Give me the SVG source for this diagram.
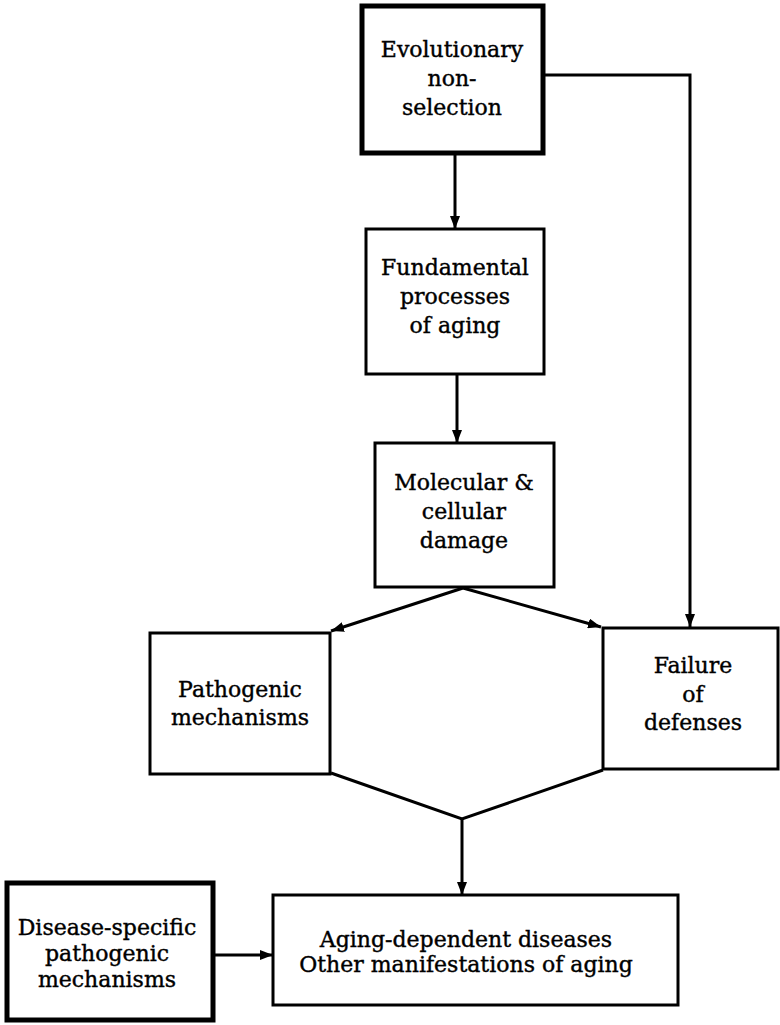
<svg xmlns="http://www.w3.org/2000/svg" width="780" height="1025" viewBox="0 0 780 1025">
<style>
.box{fill:#fff;stroke:#000;stroke-width:3}
.thick{fill:#fff;stroke:#000;stroke-width:5}
.t{font-family:"DejaVu Serif","Liberation Serif",serif;font-size:22px;fill:#000;stroke:#000;stroke-width:0.4;text-anchor:middle}
.c{fill:none;stroke:#000;stroke-width:3}
</style>
<defs>
<marker id="ah" markerUnits="userSpaceOnUse" markerWidth="13" markerHeight="10" refX="13" refY="5" orient="auto">
<path d="M0,0 L13,5 L0,10 z" fill="#000"/>
</marker>
</defs>
<rect width="780" height="1025" fill="#fff"/>
<g id="connectors">
<path class="c" d="M455,153 V229" marker-end="url(#ah)"/>
<path class="c" d="M457,374 V443" marker-end="url(#ah)"/>
<path class="c" d="M543,75 H690 V627" marker-end="url(#ah)"/>
<path class="c" d="M463,588 L331,631" marker-end="url(#ah)"/>
<path class="c" d="M463,588 L601,627" marker-end="url(#ah)"/>
<path class="c" d="M331,773 L462,819 L603,770"/>
<path class="c" d="M462,819 V895" marker-end="url(#ah)"/>
<path class="c" d="M213,955 H273" marker-end="url(#ah)"/>
</g>
<g id="evolutionary">
<rect class="thick" x="362" y="6" width="181" height="147"/>
<text class="t" x="452" y="57">Evolutionary</text>
<text class="t" x="452" y="86">non-</text>
<text class="t" x="452" y="115">selection</text>
</g>
<g id="fundamental">
<rect class="box" x="366" y="229" width="178" height="145"/>
<text class="t" x="455" y="275">Fundamental</text>
<text class="t" x="455" y="304">processes</text>
<text class="t" x="455" y="333">of aging</text>
</g>
<g id="molecular">
<rect class="box" x="375" y="443" width="179" height="144"/>
<text class="t" x="464" y="490">Molecular &amp;</text>
<text class="t" x="464" y="519">cellular</text>
<text class="t" x="464" y="548">damage</text>
</g>
<g id="pathogenic">
<rect class="box" x="150" y="633" width="180" height="141"/>
<text class="t" x="240" y="697">Pathogenic</text>
<text class="t" x="240" y="725">mechanisms</text>
</g>
<g id="failure">
<rect class="box" x="603" y="628" width="175" height="141"/>
<text class="t" x="693" y="673">Failure</text>
<text class="t" x="693" y="702">of</text>
<text class="t" x="693" y="730">defenses</text>
</g>
<g id="disease-specific">
<rect class="thick" x="7" y="883" width="206" height="137"/>
<text class="t" x="107" y="935">Disease-specific</text>
<text class="t" x="107" y="961">pathogenic</text>
<text class="t" x="107" y="987">mechanisms</text>
</g>
<g id="aging-dependent">
<rect class="box" x="273" y="895" width="405" height="110"/>
<text class="t" x="466" y="947">Aging-dependent diseases</text>
<text class="t" x="466" y="972">Other manifestations of aging</text>
</g>
</svg>
